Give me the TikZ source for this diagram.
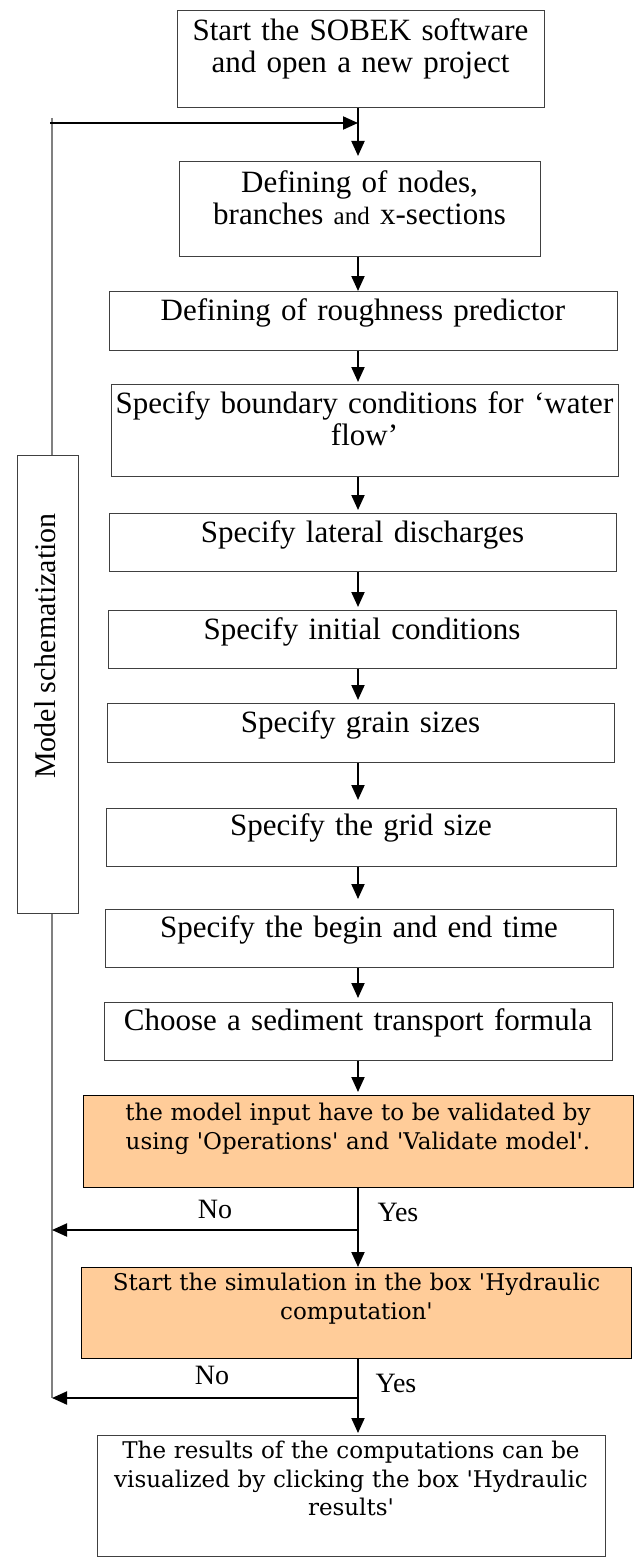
\documentclass[tikz,border=0pt]{standalone}
\usepackage{fontspec}
\setmainfont{Liberation Serif}
\newfontfamily\dvs{DejaVu Serif}
\usetikzlibrary{arrows.meta}
\definecolor{boxorange}{HTML}{FFCC99}
\definecolor{linegray}{HTML}{808080}
\definecolor{edgegray}{HTML}{404040}
\newcommand{\sqt}{\textquotesingle}
\begin{document}
\begin{tikzpicture}[x=1pt,y=-1pt,
  stepbox/.style={draw=edgegray, line width=1pt, inner sep=0pt, align=center, anchor=north, font=\fontsize{31}{32}\selectfont},
  checkbox/.style={stepbox, draw=black, fill=boxorange, font=\dvs\fontsize{23}{28.5}\selectfont},
  resbox/.style={stepbox, font=\dvs\fontsize{23}{28.5}\selectfont},
  arr/.style={line width=2pt, -{Triangle[length=15pt,width=13pt]}},
  grayline/.style={draw=linegray, line width=1.5pt},
  lbl/.style={font=\fontsize{28}{30}\selectfont, inner sep=0pt}
]
\useasboundingbox (0,0) rectangle (634,1560);
\fill[white] (0,0) rectangle (634,1560);

% boxes
\node[stepbox, text width=367pt, text height=30pt, text depth=67pt] (b1) at (360.5,10) {Start the SOBEK software\\and open a new project};
\node[stepbox, text width=361pt, text height=31pt, text depth=64pt] (b2) at (359.5,161) {Defining of nodes,\\branches {\fontsize{25}{32}\selectfont and} x-sections};
\node[stepbox, text width=508pt, text height=29pt, text depth=30pt] (b3) at (363,291) {Defining of roughness predictor};
\node[stepbox, text width=507pt, text height=29pt, text depth=63pt] (b4) at (364.5,384) {Specify boundary conditions for `water\\flow'};
\node[stepbox, text width=507pt, text height=29pt, text depth=29pt] (b5) at (362.5,513) {Specify lateral discharges};
\node[stepbox, text width=508pt, text height=29pt, text depth=29pt] (b6) at (362,610) {Specify initial conditions};
\node[stepbox, text width=507pt, text height=29pt, text depth=30pt] (b7) at (360.5,703) {Specify grain sizes};
\node[stepbox, text width=510pt, text height=27pt, text depth=31pt] (b8) at (361,808) {Specify the grid size};
\node[stepbox, text width=508pt, text height=28pt, text depth=30pt] (b9) at (359,909) {Specify the begin and end time};
\node[stepbox, text width=508pt, text height=28pt, text depth=30pt] (b10) at (358,1002) {Choose a sediment transport formula\hspace*{20pt}};
\node[checkbox, text width=550pt, text height=25pt, text depth=67pt] (v1) at (358,1095) {the model input have to be validated by\\using \sqt Operations\sqt{} and \sqt Validate model\sqt.};
\node[checkbox, text width=550pt, text height=23pt, text depth=68pt] (v2) at (356.5,1267) {Start the simulation in the box \sqt Hydraulic\\computation\sqt};
\node[resbox, text width=508pt, text height=23pt, text depth=98pt] (res) at (351,1435) {The results of the computations can be\\visualized by clicking the box \sqt Hydraulic\\results\sqt};

% side box
\node[draw=edgegray, line width=1pt, minimum width=61pt, minimum height=458pt, inner sep=0pt, anchor=north] (model) at (47.5,455) {};
\node[rotate=90, anchor=base, inner sep=0pt, font=\fontsize{30}{32}\selectfont] (modeltxt) at (55,646) {Model schematization};

% labels
\node[lbl] (no1) at (215,1209) {No};
\node[lbl] (yes1) at (398,1212) {Yes};
\node[lbl] (no2) at (212,1375) {No};
\node[lbl] (yes2) at (396,1383) {Yes};

% helper coordinates
\coordinate (sp) at (358,0);
\coordinate (gx) at (52,0);
\coordinate (fb) at (50,123);
\coordinate (gtop) at (52,118);
\coordinate (nojA) at (358,1230);
\coordinate (nojB) at (358,1398);

% gray feedback line
\draw[grayline] (gtop) -- (model.north -| gx);
\draw[grayline] (model.south -| gx) -- (gx |- nojB);

% connectors
\draw[arr] (fb) -- (fb -| sp);
\draw[arr, shorten >=5pt] (b1.south -| sp) -- (b2.north -| sp);
\draw[arr] (b2.south -| sp) -- (b3.north -| sp);
\draw[arr, shorten >=2pt] (b3.south -| sp) -- (b4.north -| sp);
\draw[arr, shorten >=3pt] (b4.south -| sp) -- (b5.north -| sp);
\draw[arr, shorten >=3pt] (b5.south -| sp) -- (b6.north -| sp);
\draw[arr, shorten >=3pt] (b6.south -| sp) -- (b7.north -| sp);
\draw[arr, shorten >=8pt] (b7.south -| sp) -- (b8.north -| sp);
\draw[arr, shorten >=10pt] (b8.south -| sp) -- (b9.north -| sp);
\draw[arr, shorten >=4pt] (b9.south -| sp) -- (b10.north -| sp);
\draw[arr, shorten >=3pt] (b10.south -| sp) -- (v1.north -| sp);
\draw[arr] (v1.south -| sp) -- (v2.north -| sp);
\draw[arr] (nojA) -- (gx |- nojA);
\draw[arr, shorten >=2pt] (v2.south -| sp) -- (res.north -| sp);
\draw[arr] (nojB) -- (gx |- nojB);
\end{tikzpicture}
\end{document}
